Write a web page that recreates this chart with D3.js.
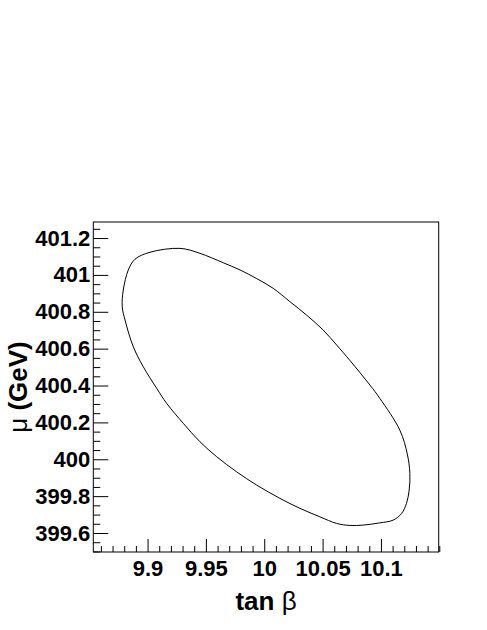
<!DOCTYPE html>
<html>
<head>
<meta charset="utf-8">
<script src="https://cdn.jsdelivr.net/npm/d3@7"></script>
<style>
  body { margin: 0; background: #fff; }
  svg text { font-family: "Liberation Sans", Arial, sans-serif; font-weight: bold; fill: #000; }
</style>
</head>
<body>
<div id="chart"></div>
<script>
var width = 487;
var height = 630;

// frame of the plot, in pixels
var frameLeft = 93.3, frameRight = 438.7, frameTop = 222, frameBottom = 552;

// axis ranges and labels
var xRange = [9.8535, 10.1495];
var yRange = [399.497, 401.287];
var xTicks = [9.9, 9.95, 10, 10.05, 10.1];
var xTickLabels = ['9.9', '9.95', '10', '10.05', '10.1'];
var yTicks = [399.6, 399.8, 400, 400.2, 400.4, 400.6, 400.8, 401, 401.2];
var yTickLabels = ['399.6', '399.8', '400', '400.2', '400.4', '400.6', '400.8', '401', '401.2'];

// contour (tan beta, mu)
var contourTanB = [9.9278, 9.9449, 9.9648, 9.9792, 9.9935, 10.0077, 10.0220, 10.0363, 10.0505, 10.0620,
  10.0734, 10.0905, 10.0991, 10.1162, 10.1226, 10.1248, 10.1242, 10.1219, 10.1177, 10.1105,
  10.0991, 10.0848, 10.0734, 10.0620, 10.0477, 10.0305, 10.0134, 9.9935, 9.9763, 9.9592,
  9.9449, 9.9306, 9.9164, 9.9078, 9.8963, 9.8878, 9.8807, 9.8783, 9.8792, 9.8835,
  9.8892, 9.9021];
var contourMu = [401.144, 401.117, 401.066, 401.027, 400.980, 400.927, 400.855, 400.782, 400.701, 400.620,
  400.536, 400.403, 400.330, 400.158, 400.028, 399.924, 399.833, 399.761, 399.706, 399.670,
  399.655, 399.643, 399.641, 399.652, 399.688, 399.734, 399.788, 399.860, 399.932, 400.014,
  400.095, 400.195, 400.303, 400.385, 400.502, 400.610, 400.755, 400.827, 400.918, 401.027,
  401.085, 401.123];

var svg = d3.select("#chart").append("svg")
    .attr("width", width)
    .attr("height", height);

var x = d3.scaleLinear().domain(xRange).range([frameLeft, frameRight]);
var y = d3.scaleLinear().domain(yRange).range([frameBottom, frameTop]);

/* minor ticks */
var xMinor = d3.range(9.86, 10.15, 0.01).filter(function (v) {
  return !xTicks.some(function (t) { return Math.abs(t - v) < 1e-6; });
});
var yMinor = d3.range(399.5, 401.28, 0.05).filter(function (v) {
  return !yTicks.some(function (t) { return Math.abs(t - v) < 1e-6; });
});

svg.append("g")
    .attr("transform", "translate(0," + frameBottom + ")")
    .call(d3.axisBottom(x).tickValues(xMinor).tickSize(-6).tickFormat(""))
    .call(function (g) { g.select(".domain").remove(); });

svg.append("g")
    .attr("transform", "translate(" + frameLeft + ",0)")
    .call(d3.axisLeft(y).tickValues(yMinor).tickSize(-7).tickFormat(""))
    .call(function (g) { g.select(".domain").remove(); });

/* major ticks + labels */
var xAxis = svg.append("g")
    .attr("transform", "translate(0," + frameBottom + ")")
    .call(d3.axisBottom(x).tickValues(xTicks).tickSize(-13).tickPadding(8)
      .tickFormat(function (d, i) { return xTickLabels[i]; }));
xAxis.select(".domain").remove();
xAxis.selectAll("text").style("font-size", "22px").attr("fill", "#000");

var yAxis = svg.append("g")
    .attr("transform", "translate(" + frameLeft + ",0)")
    .call(d3.axisLeft(y).tickValues(yTicks).tickSize(-15).tickPadding(3)
      .tickFormat(function (d, i) { return yTickLabels[i]; }));
yAxis.select(".domain").remove();
yAxis.selectAll("text").style("font-size", "22px").attr("fill", "#000");

svg.selectAll(".tick line").attr("stroke", "#000");

/* frame */
svg.append("rect")
    .attr("x", frameLeft)
    .attr("y", frameTop)
    .attr("width", frameRight - frameLeft)
    .attr("height", frameBottom - frameTop)
    .attr("fill", "none")
    .attr("stroke", "#000")
    .attr("stroke-width", 1);

/* contour */
var pts = contourTanB.map(function (v, i) { return [v, contourMu[i]]; });
var line = d3.line()
    .x(function (d) { return x(d[0]); })
    .y(function (d) { return y(d[1]); })
    .curve(d3.curveCatmullRomClosed.alpha(0.5));

svg.append("path")
    .datum(pts)
    .attr("d", line)
    .attr("fill", "none")
    .attr("stroke", "#000")
    .attr("stroke-width", 1);

/* axis titles */
var xt = svg.append("text")
    .attr("x", (frameLeft + frameRight) / 2)
    .attr("y", 610)
    .attr("text-anchor", "middle")
    .style("font-size", "26px");
xt.append("tspan").text("tan ");
xt.append("tspan").style("font-weight", "normal").text("β");

var yt = svg.append("text")
    .attr("transform", "translate(27," + (frameTop + frameBottom) / 2 + ") rotate(-90)")
    .attr("text-anchor", "middle")
    .style("font-size", "26px");
yt.append("tspan").style("font-weight", "normal").text("μ");
yt.append("tspan").text(" (GeV)");
</script>
</body>
</html>
